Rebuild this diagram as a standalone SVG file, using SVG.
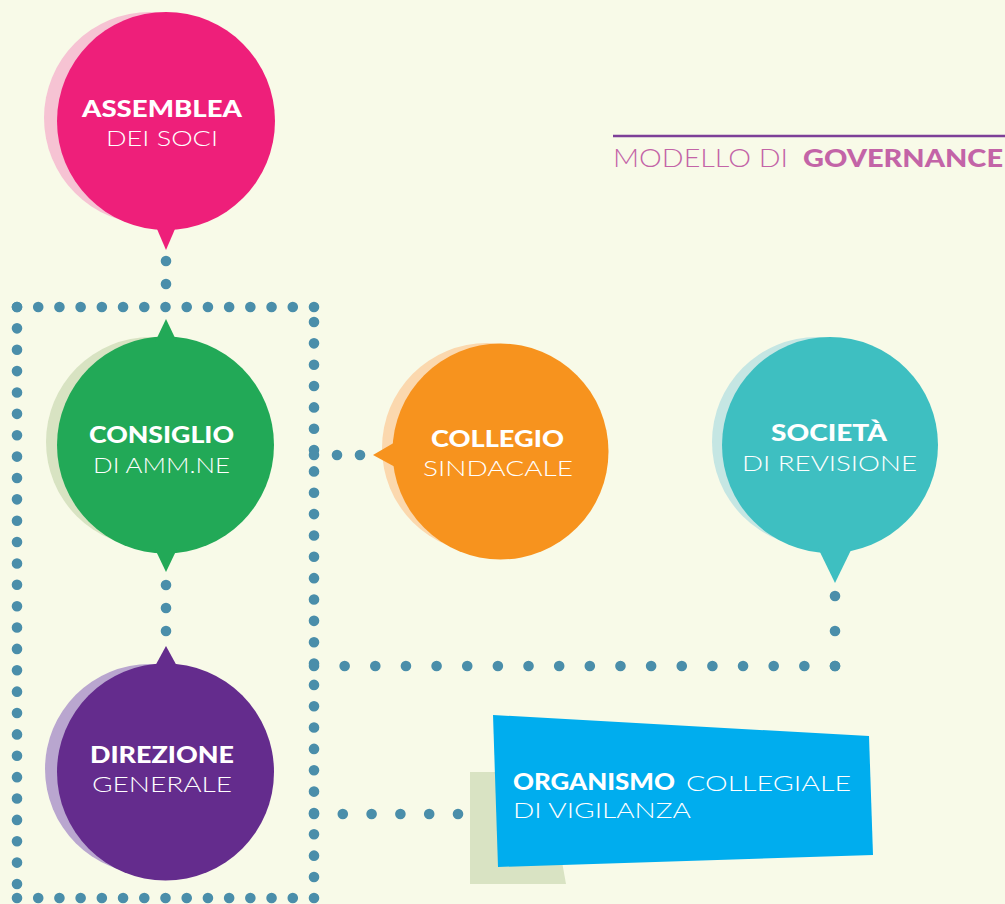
<svg xmlns="http://www.w3.org/2000/svg" width="1005" height="904" viewBox="0 0 1005 904">
  <style>
    .bg { fill: #f8fae8; }
    .dots { fill: none; stroke: #4a8eaa; stroke-width: 10.6; stroke-linecap: round; }
    text { font-family: Lato, "Open Sans", "Liberation Sans", sans-serif; fill: #ffffff; font-size: 22px; }
    .b { font-weight: 900; }
    .l { font-weight: 300; }
    .title { fill: #c364a7; font-size: 25px; }
  </style>

  <rect class="bg" x="0" y="0" width="1005" height="904"/>

  <!-- title -->
  <g id="title">
    <line x1="613" y1="136" x2="1005" y2="136" stroke="#7d3f98" stroke-width="2.5"/>
    <text class="title l" x="613" y="167" textLength="175" lengthAdjust="spacingAndGlyphs">MODELLO DI</text>
    <text class="title b" x="803" y="167" textLength="200" lengthAdjust="spacingAndGlyphs">GOVERNANCE</text>
  </g>

  <!-- dotted connectors (each path runs 1px past its last dot so the end dot is drawn) -->
  <g id="connectors">
    <!-- frame around board and general management -->
    <path class="dots" d="M17 307 H315" stroke-dasharray="0 21.214"/>
    <path class="dots" d="M17 307 V885" stroke-dasharray="0 21.37"/>
    <path class="dots" d="M17 898 H315" stroke-dasharray="0 21.214"/>
    <path class="dots" d="M314 322 V878" stroke-dasharray="0 21.346"/>
    <!-- vertical links -->
    <path class="dots" d="M166 261 V285" stroke-dasharray="0 23"/>
    <path class="dots" d="M166 585 V632" stroke-dasharray="0 23"/>
    <!-- to collegio sindacale -->
    <path class="dots" d="M314 455 H361" stroke-dasharray="0 23"/>
    <!-- to società di revisione -->
    <path class="dots" d="M314 666 H836" stroke-dasharray="0 30.647"/>
    <path class="dots" d="M835 596 V667" stroke-dasharray="0 35"/>
    <!-- to organismo di vigilanza -->
    <path class="dots" d="M314 814 H459" stroke-dasharray="0 28.8"/>
  </g>

  <g id="assemblea">
    <circle cx="150" cy="118" r="106" fill="#f6c3d3"/>
    <circle cx="166" cy="121" r="109" fill="#ee1f7a"/>
    <polygon points="154,222 178,222 166,250" fill="#ee1f7a"/>
    <text class="b" x="82" y="117" textLength="160" lengthAdjust="spacingAndGlyphs">ASSEMBLEA</text>
    <text class="l" x="106" y="146" textLength="112" lengthAdjust="spacingAndGlyphs">DEI SOCI</text>
  </g>

  <g id="consiglio">
    <circle cx="151" cy="442" r="105" fill="#d8e3c2"/>
    <circle cx="165.5" cy="445" r="108.5" fill="#22a957"/>
    <polygon points="166,319 155,342 177,342" fill="#22a957"/>
    <polygon points="166,572 155,549 177,549" fill="#22a957"/>
    <text class="b" x="89" y="443" textLength="145" lengthAdjust="spacingAndGlyphs">CONSIGLIO</text>
    <text class="l" x="93" y="473" textLength="137" lengthAdjust="spacingAndGlyphs">DI AMM.NE</text>
  </g>

  <g id="collegio">
    <circle cx="487" cy="448" r="105" fill="#fbd8ae"/>
    <circle cx="500.5" cy="451.5" r="108" fill="#f7931e"/>
    <polygon points="373,455 397,441 397,468" fill="#f7931e"/>
    <text class="b" x="431" y="447" textLength="133" lengthAdjust="spacingAndGlyphs">COLLEGIO</text>
    <text class="l" x="423" y="476" textLength="150" lengthAdjust="spacingAndGlyphs">SINDACALE</text>
  </g>

  <g id="societa">
    <circle cx="817" cy="442" r="105" fill="#c5e6e3"/>
    <circle cx="830" cy="445" r="108" fill="#3ebfc1"/>
    <polygon points="835,583 818,548 852,548" fill="#3ebfc1"/>
    <text class="b" x="771" y="441" textLength="116" lengthAdjust="spacingAndGlyphs">SOCIETÀ</text>
    <text class="l" x="742" y="471" textLength="175" lengthAdjust="spacingAndGlyphs">DI REVISIONE</text>
  </g>

  <g id="direzione">
    <circle cx="150" cy="769" r="105" fill="#b9a6cf"/>
    <circle cx="165.5" cy="772" r="108.5" fill="#642c8d"/>
    <polygon points="166,646 154,668 178,668" fill="#642c8d"/>
    <text class="b" x="90" y="763" textLength="144" lengthAdjust="spacingAndGlyphs">DIREZIONE</text>
    <text class="l" x="92" y="792" textLength="140" lengthAdjust="spacingAndGlyphs">GENERALE</text>
  </g>

  <g id="organismo">
    <polygon points="470,772 546,772 566,884 470,884" fill="#d9e3c3"/>
    <polygon points="493,715 869,736 873,855 498,867" fill="#00adee"/>
    <text class="b" x="513" y="790" textLength="162" lengthAdjust="spacingAndGlyphs">ORGANISMO</text>
    <text class="l" x="686" y="791" textLength="165" lengthAdjust="spacingAndGlyphs">COLLEGIALE</text>
    <text class="l" x="513" y="818" textLength="178" lengthAdjust="spacingAndGlyphs">DI VIGILANZA</text>
  </g>
</svg>
